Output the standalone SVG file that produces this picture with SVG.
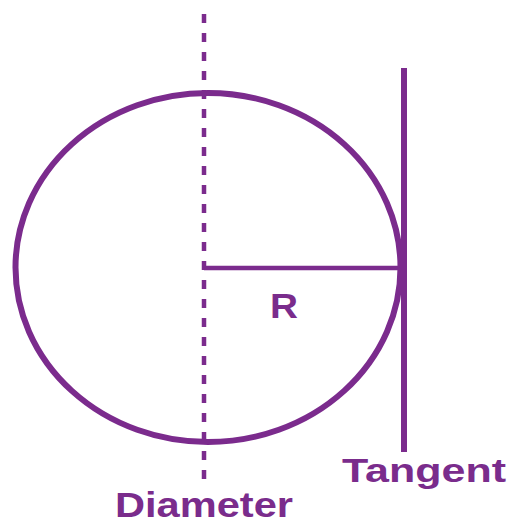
<svg xmlns="http://www.w3.org/2000/svg" width="508" height="525" viewBox="0 0 508 525">
<style>
.ln{stroke:#7b2b8d;fill:none}
.lbl{font-family:"Liberation Sans",Arial,sans-serif;font-weight:bold;fill:#7a2c8c}
</style>
<rect width="508" height="525" fill="#ffffff"/>
<g id="circle">
<ellipse class="ln" cx="208" cy="267.5" rx="192.5" ry="174.5" stroke-width="6"/>
</g>
<g id="connectors">
<line id="diameter-line" class="ln" x1="204" y1="14" x2="204" y2="480" stroke-width="4.5" stroke-dasharray="9 10"/>
<line id="radius-line" class="ln" x1="204" y1="268" x2="403" y2="268" stroke-width="4.5"/>
<line id="tangent-line" class="ln" x1="404" y1="68" x2="404" y2="452" stroke-width="6"/>
</g>
<g id="label-r">
<text class="lbl" x="270" y="318" font-size="35" textLength="28" lengthAdjust="spacingAndGlyphs">R</text>
</g>
<g id="label-tangent">
<text class="lbl" x="342" y="482" font-size="33" textLength="164" lengthAdjust="spacingAndGlyphs">Tangent</text>
</g>
<g id="label-diameter">
<text class="lbl" x="115" y="517" font-size="35" textLength="178" lengthAdjust="spacingAndGlyphs">Diameter</text>
</g>
</svg>
